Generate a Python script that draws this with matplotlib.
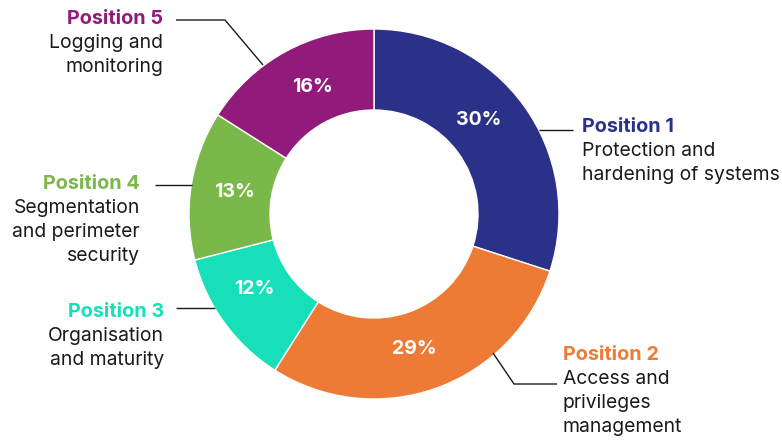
import matplotlib.pyplot as plt
import numpy as np

# data
positions = ["Position 1", "Position 2", "Position 3", "Position 4", "Position 5"]
descriptions = [
    "Protection and\nhardening of systems",
    "Access and\nprivileges\nmanagement",
    "Organisation\nand maturity",
    "Segmentation\nand perimeter\nsecurity",
    "Logging and\nmonitoring",
]
shares = [30, 29, 12, 13, 16]
colors = ["#2b3089", "#ee7b35", "#16dfb9", "#7ab84a", "#921a7a"]

W, H = 782, 441
FONT = "Inter"


def Y(y):
    # image pixel row -> data y
    return H - y


fig = plt.figure(figsize=(W / 100, H / 100), dpi=100)
ax = fig.add_axes([0, 0, 1, 1])

cx, cy, r_out = 374, Y(214), 185
ring = 1 - 104 / 185

wedges, _ = ax.pie(
    shares, colors=colors, startangle=90, counterclock=False,
    center=(cx, cy), radius=r_out, frame=True,
    wedgeprops=dict(width=r_out * ring, edgecolor="white", linewidth=1.0),
)
ax.set_xlim(0, W)
ax.set_ylim(0, H)
ax.set_aspect("equal")
ax.axis("off")

# percentage labels in the ring (small angular nudges as in the original)
r_lab = 141
nudge = [6, -3, -4, 0, -3]
for w, v, dn in zip(wedges, shares, nudge):
    ang = np.deg2rad((w.theta1 + w.theta2) / 2 + dn)
    ax.text(cx + r_lab * np.cos(ang), cy + r_lab * np.sin(ang), f"{v}%",
            color="white", fontsize=14, fontweight="bold", family=FONT,
            ha="center", va="center")

# leader lines (image pixel coords)
leaders = [
    [(539, 130), (573, 130)],
    [(493, 353), (514, 384), (557, 384)],
    [(215, 308), (176, 308)],
    [(192, 185), (155, 185)],
    [(263, 65), (225, 20), (176, 20)],
]
for pts in leaders:
    xs = [p[0] for p in pts]
    ys = [Y(p[1]) for p in pts]
    ax.plot(xs, ys, color="#1a1a1a", linewidth=1.0, solid_capstyle="butt")

# label blocks: (x, y of title centre, alignment)
blocks = [
    (582, 127, "left"),
    (563, 355, "left"),
    (164, 312, "right"),
    (140, 184, "right"),
    (163, 19, "right"),
]
for (x, y, ha), title, desc, c in zip(blocks, positions, descriptions, colors):
    ax.text(x, Y(y), title, color=c, fontsize=14.3, fontweight="bold",
            family=FONT, ha=ha, va="center")
    for i, line in enumerate(desc.split("\n")):
        ax.text(x, Y(y + 24 * (i + 1)), line, color="#1a1a1a", fontsize=13.9,
                family=FONT, ha=ha, va="center")

fig.savefig("out.png", dpi=100)
